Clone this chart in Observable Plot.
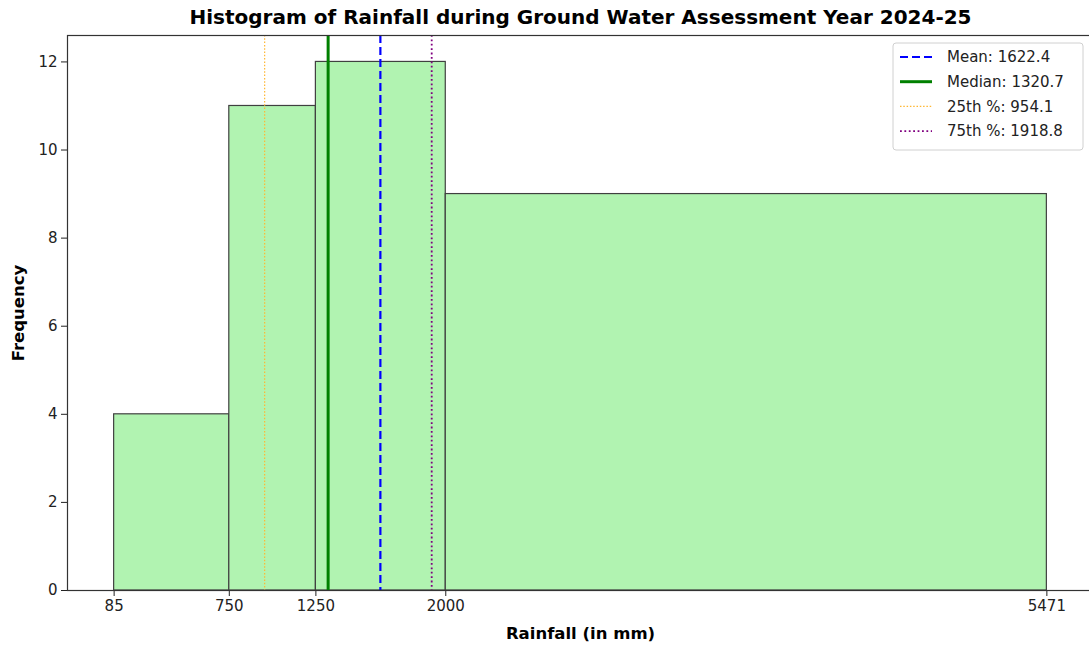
<!DOCTYPE html>
<html>
<head>
<meta charset="utf-8">
<script src="https://cdn.jsdelivr.net/npm/d3@7"></script>
<script src="https://cdn.jsdelivr.net/npm/@observablehq/plot@0.6"></script>
<style>
  html, body { margin: 0; padding: 0; background: white; overflow: hidden; }
  #chart { width: 1089px; height: 648px; overflow: hidden; position: relative; }
  #chart svg { max-width: none !important; }
</style>
</head>
<body>
<div id="chart"></div>
<script>
// ---- data ----
const binEdges = [85, 750, 1250, 2000, 5471];
const binCounts = [4, 11, 12, 9];
const xTickValues = [85, 750, 1250, 2000, 5471];
const yTickValues = [0, 2, 4, 6, 8, 10, 12];
const statNames = ["Mean", "Median", "25th %", "75th %"];
const statValues = [1622.4, 1320.7, 954.1, 1918.8];
const titleText = "Histogram of Rainfall during Ground Water Assessment Year 2024-25";
const xLabelText = "Rainfall (in mm)";
const yLabelText = "Frequency";

// ---- styles ----
const statStyles = {
  "Mean":   {stroke: "blue",    strokeWidth: 2.2, dash: "8,4"},
  "Median": {stroke: "green",   strokeWidth: 3,   dash: null},
  "25th %": {stroke: "#ffb732", strokeWidth: 1.2, dash: "1.5,1.8"},
  "75th %": {stroke: "purple",  strokeWidth: 1.8, dash: "1.8,2.6"}
};

const rows = binCounts.map((c, i) => ({x1: binEdges[i], x2: binEdges[i + 1], count: c}));
const stats = statNames.map((n, i) => ({name: n, value: statValues[i]}));

const FONT = "'DejaVu Sans', Verdana, sans-serif";

const lo = binEdges[0], hi = binEdges[binEdges.length - 1];
const pad = (hi - lo) * 0.05;

const ruleMarks = stats.map(s => {
  const st = statStyles[s.name];
  return Plot.ruleX([s.value], {
    stroke: st.stroke, strokeWidth: st.strokeWidth,
    strokeDasharray: st.dash || undefined
  });
});

const plot = Plot.plot({
  width: 1093,
  height: 648,
  marginLeft: 67,
  marginRight: 0,
  marginTop: 35,
  marginBottom: 58,
  style: {fontFamily: FONT, fontSize: "15px", color: "#222", background: "white", overflow: "visible", maxWidth: "none"},
  x: {type: "linear", domain: [lo - pad, hi + pad]},
  y: {domain: [0, 12.6]},
  marks: [
    Plot.rectY(rows, {x1: "x1", x2: "x2", y: "count", fill: "#b1f3b1", stroke: "#404040", strokeWidth: 1.2}),
    ...ruleMarks,
    Plot.axisX({ticks: xTickValues, tickFormat: d => String(d), tickSize: 6, tickPadding: 4, label: null, fontSize: 15}),
    Plot.axisY({ticks: yTickValues, tickFormat: d => String(d), tickSize: 6, tickPadding: 4, label: null, fontSize: 15}),
    Plot.frame({stroke: "#333", strokeWidth: 1.2}),
    Plot.text([titleText], {frameAnchor: "top", lineAnchor: "middle", dy: -18, text: d => d, fontWeight: "bold", fontSize: 20, fill: "#000"}),
    Plot.text([xLabelText], {frameAnchor: "bottom", lineAnchor: "middle", dy: 43, text: d => d, fontWeight: "bold", fontSize: 16.5, fill: "#000"}),
    Plot.text([yLabelText], {frameAnchor: "left", textAnchor: "middle", lineAnchor: "middle", dx: -49, rotate: -90, text: d => d, fontWeight: "bold", fontSize: 16.5, fill: "#000"})
  ]
});

document.getElementById("chart").appendChild(plot);

// ---- legend (inside axes, top right) ----
const svg = d3.select(plot);
const lg = svg.append("g").attr("font-family", FONT).attr("font-size", 15).attr("text-anchor", "start");
lg.append("rect")
  .attr("x", 893).attr("y", 43).attr("width", 190).attr("height", 107)
  .attr("rx", 3).attr("fill", "white").attr("fill-opacity", 0.85)
  .attr("stroke", "#d0d0d0");
stats.forEach((s, i) => {
  const st = statStyles[s.name];
  const yy = 57 + i * 24.7;
  lg.append("line")
    .attr("x1", 900).attr("x2", 932).attr("y1", yy).attr("y2", yy)
    .attr("stroke", st.stroke).attr("stroke-width", st.strokeWidth)
    .attr("stroke-dasharray", st.dash || null);
  lg.append("text")
    .attr("x", 947).attr("y", yy).attr("dy", "0.35em")
    .attr("fill", "#222")
    .text(`${s.name}: ${s.value.toFixed(1)}`);
});
</script>
</body>
</html>
